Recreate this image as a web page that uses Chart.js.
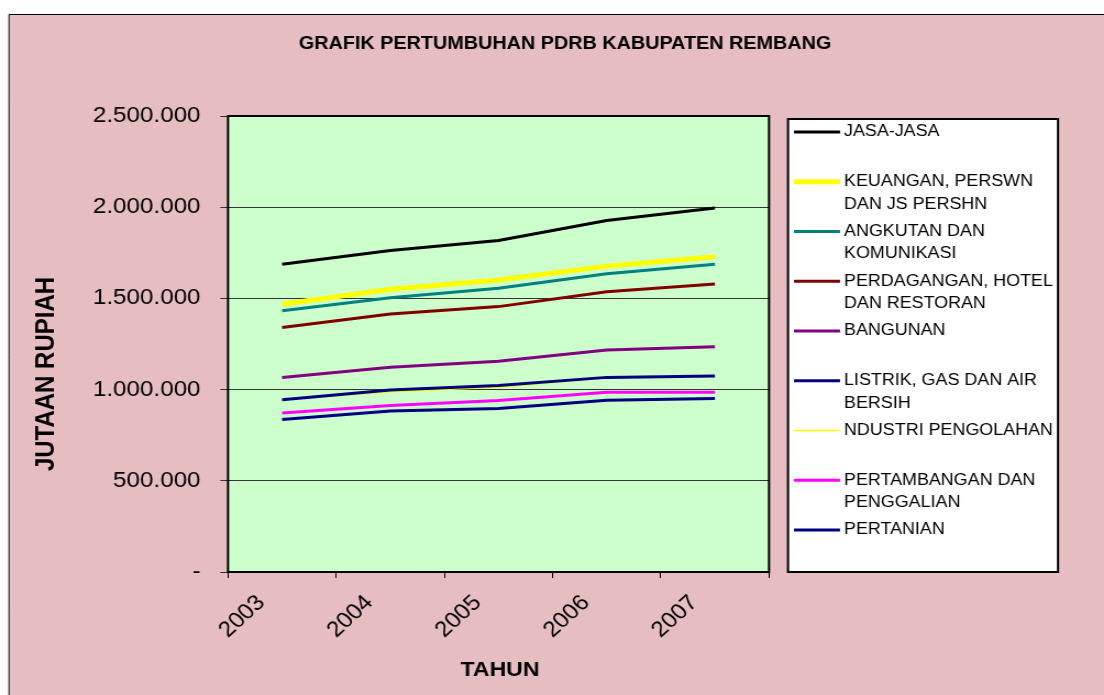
<!DOCTYPE html>
<html>
<head>
<meta charset="utf-8">
<script src="https://cdn.jsdelivr.net/npm/chart.js@4/dist/chart.umd.min.js"></script>
<style>
  html, body { margin: 0; padding: 0; background: #fff; overflow: hidden; }
  #chart { display: block; }
</style>
</head>
<body>
<canvas id="chart" width="1004" height="695" style="width:1104px;height:695px"></canvas>
<script>
// data
const years = ['2003', '2004', '2005', '2006', '2007'];
const seriesNames = [
  ['JASA-JASA'],
  ['KEUANGAN, PERSWN', 'DAN JS PERSHN'],
  ['ANGKUTAN DAN', 'KOMUNIKASI'],
  ['PERDAGANGAN, HOTEL', 'DAN RESTORAN'],
  ['BANGUNAN'],
  ['LISTRIK, GAS DAN AIR', 'BERSIH'],
  ['NDUSTRI PENGOLAHAN'],
  ['PERTAMBANGAN DAN', 'PENGGALIAN'],
  ['PERTANIAN']
];
const jasa         = [1687000, 1763000, 1818000, 1927000, 1996000];
const keuangan     = [1468000, 1550000, 1601000, 1677000, 1728000];
const angkutan     = [1432000, 1504000, 1556000, 1635000, 1687000];
const perdagangan  = [1340000, 1414000, 1455000, 1537000, 1579000];
const bangunan     = [1066000, 1122000, 1155000, 1217000, 1235000];
const listrik      = [944000, 998000, 1023000, 1067000, 1075000];
const industri     = [944000, 988000, 1013000, 1065000, 1075000];
const pertambangan = [872000, 913000, 940000, 985000, 985000];
const pertanian    = [836000, 882000, 896000, 942000, 951000];
const yMax = 2500000;
const yStep = 500000;

const seriesValues = [jasa, keuangan, angkutan, perdagangan, bangunan, listrik, industri, pertambangan, pertanian];
const colors = ['#000000', '#FFFF00', '#008080', '#800000', '#800080', '#000080', '#FFFF00', '#FF00FF', '#000080'];
const widths = [3, 5, 3, 3, 3, 3, 1.5, 3, 3];

const FONT = "'Liberation Sans', Arial, sans-serif";
const SX = 1004 / 1104; // picture px -> canvas px (canvas is stretched by css)

function fmt(v) {
  if (v === 0) return '-';
  return String(v).replace(/\B(?=(\d{3})+(?!\d))/g, '.');
}

const decor = {
  id: 'decor',
  beforeDraw(chart) {
    const { ctx, chartArea: a } = chart;
    ctx.save();
    ctx.fillStyle = '#fff';
    ctx.fillRect(0, 0, chart.width, chart.height);
    ctx.fillStyle = '#E6BDC1';
    ctx.fillRect(9 * SX, 14, chart.width, chart.height);
    ctx.strokeStyle = '#000';
    ctx.lineWidth = 1;
    ctx.beginPath();
    ctx.moveTo(9 * SX, chart.height);
    ctx.lineTo(9 * SX, 14.5);
    ctx.lineTo(chart.width, 14.5);
    ctx.stroke();
    ctx.fillStyle = '#CCFFCC';
    ctx.fillRect(a.left, a.top, a.width, a.height);
    ctx.restore();
  },
  afterDraw(chart) {
    const { ctx, chartArea: a } = chart;
    ctx.save();
    // plot border
    ctx.strokeStyle = '#000';
    ctx.lineWidth = 2;
    ctx.strokeRect(a.left, a.top, a.width, a.height);

    // titles
    ctx.fillStyle = '#000';
    ctx.textAlign = 'center';
    ctx.textBaseline = 'middle';
    ctx.font = 'bold 18px ' + FONT;
    ctx.fillText('GRAFIK PERTUMBUHAN PDRB KABUPATEN REMBANG', 565 * SX, 44);
    ctx.font = 'bold 21px ' + FONT;
    ctx.fillText('TAHUN', 500 * SX, 670);
    ctx.save();
    ctx.font = 'bold 24px ' + FONT;
    ctx.translate(47 * SX, 374);
    ctx.rotate(-Math.PI / 2);
    ctx.fillText('JUTAAN RUPIAH', 0, 0);
    ctx.restore();

    // legend box
    const lx = 788 * SX, lr = 1058 * SX, lt = 119, lb = 572;
    ctx.fillStyle = '#fff';
    ctx.fillRect(lx, lt, lr - lx, lb - lt);
    ctx.strokeStyle = '#000';
    ctx.lineWidth = 2;
    ctx.strokeRect(lx, lt, lr - lx, lb - lt);
    ctx.font = '16.3px ' + FONT;
    ctx.textAlign = 'left';
    ctx.fillStyle = '#000';
    chart.data.datasets.forEach((ds, i) => {
      const y = 132 + i * 49.75;
      ctx.strokeStyle = ds.borderColor;
      ctx.lineWidth = ds.borderWidth;
      ctx.beginPath();
      ctx.moveTo(794 * SX, y);
      ctx.lineTo(840 * SX, y);
      ctx.stroke();
      seriesNames[i].forEach((t, k) => ctx.fillText(t, 844 * SX, y + k * 22.5));
    });
    ctx.restore();
  }
};

const ctx = document.getElementById('chart').getContext('2d');
new Chart(ctx, {
  type: 'line',
  data: {
    labels: years,
    datasets: seriesValues.map((vals, i) => ({
      label: seriesNames[i].join(' '),
      data: vals,
      borderColor: colors[i],
      backgroundColor: colors[i],
      borderWidth: widths[i],
      pointRadius: 0,
      tension: 0,
      fill: false
    }))
  },
  options: {
    responsive: false,
    animation: false,
    devicePixelRatio: 1,
    layout: { padding: { top: 116, right: 1004 - 769 * SX, bottom: 0, left: 0 } },
    plugins: {
      legend: { display: false },
      title: { display: false },
      tooltip: { enabled: false }
    },
    scales: {
      x: {
        offset: true,
        grid: { offset: true, drawOnChartArea: false, drawTicks: true, tickLength: 6, color: '#000' },
        border: { display: false },
        ticks: {
          autoSkip: false, minRotation: 45, maxRotation: 45,
          padding: 12, labelOffset: -19, color: '#000',
          font: { family: FONT, size: 22 }
        },
        afterFit(s) { s.height = 123; }
      },
      y: {
        min: 0,
        max: yMax,
        grid: { color: '#333', tickLength: 7, lineWidth: 1 },
        border: { display: false },
        ticks: {
          stepSize: yStep, padding: 18, color: '#000',
          font: { family: FONT, size: 22 },
          callback: v => fmt(v)
        },
        afterFit(s) { s.width = 228 * SX; }
      }
    }
  },
  plugins: [decor]
});
</script>
</body>
</html>
